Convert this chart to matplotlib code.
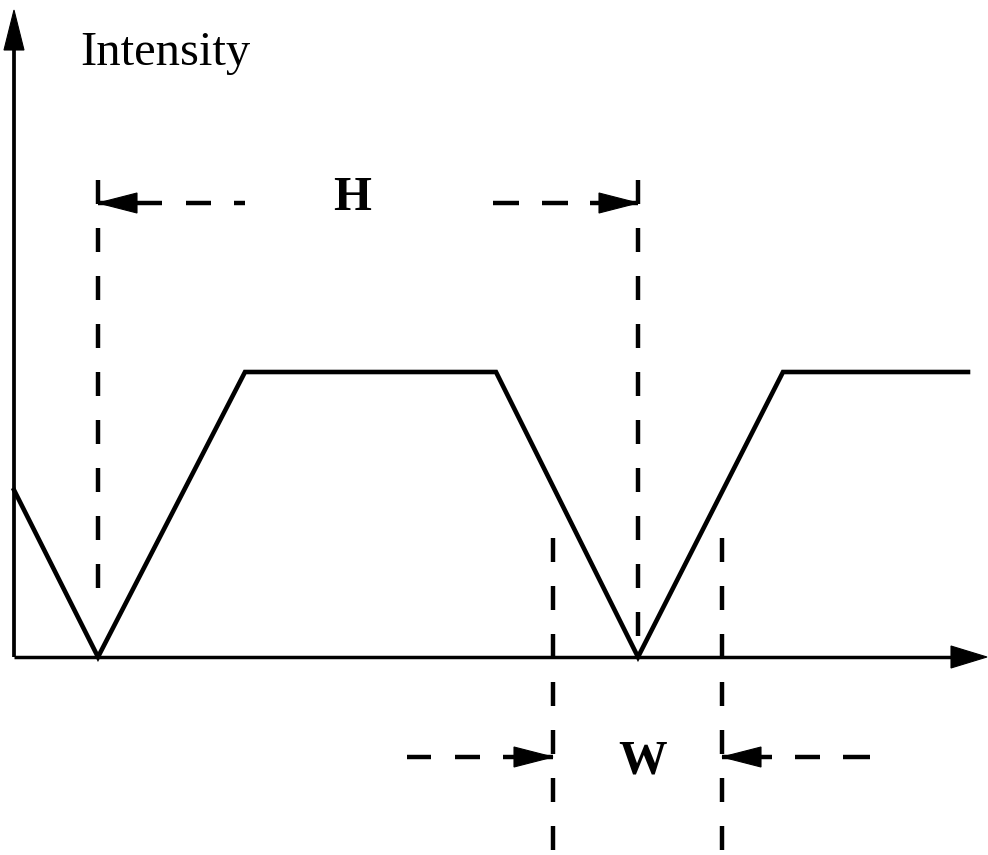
import matplotlib.pyplot as plt

plt.rcParams['lines.scale_dashes'] = False

# intensity profile (x measured from the origin, y = intensity)
profile_x = [0, 84, 231, 482, 624, 769, 954]
profile_y = [167, 0, 285, 285, 0, 285, 285]

# guide lines for the period H (at the two minima) and the width W
h_guides = [profile_x[1], profile_x[4]]
w_guides = [539, 708]
h_level = 454
w_level = -100

PX = 0.72  # pixel -> points at dpi 100

fig = plt.figure(figsize=(9.88, 8.55), dpi=100)
ax = fig.add_axes([0, 0, 1, 1])
ax.set_xlim(-14, 974)
ax.set_ylim(-198, 657)
ax.axis('off')


def head(tx, ty, dx, dy, length=39, hw=10):
    # filled arrow head, tip at (tx, ty), pointing along (dx, dy)
    bx, by = tx - dx * length, ty - dy * length
    px, py = -dy * hw, dx * hw
    ax.fill([tx, bx + px, bx - px], [ty, by + py, by - py], color='black', lw=0.8)


def dashed(x0, y0, x1, y1, pattern):
    ax.plot([x0, x1], [y0, y1], color='black', lw=3.2,
            dashes=[p * PX for p in pattern])


# axes
ax.plot([0, 0], [0, 615], color='black', lw=2.7, solid_capstyle='butt')
head(0, 647, 0, 1, length=40, hw=10)
ax.plot([0, 945], [0, 0], color='black', lw=2.5, solid_capstyle='butt')
head(973, 0, 1, 0, length=36, hw=11)

# profile
ax.plot(profile_x, profile_y, color='black', lw=3.3, solid_joinstyle='miter')

# vertical guides
dashed(h_guides[0], 477, h_guides[0], 69, (24, 24))
dashed(h_guides[1], 477, h_guides[1], 21, (24, 24))
dashed(w_guides[0], 119, w_guides[0], -198, (24, 24))
dashed(w_guides[1], 119, w_guides[1], -198, (24, 24))

# H arrows
dashed(h_guides[0], h_level, 231, h_level, (64, 24, 25, 23))
head(h_guides[0], h_level, -1, 0)
dashed(h_guides[1], h_level, 479, h_level, (48, 22, 26, 23))
head(h_guides[1], h_level, 1, 0)

# W arrows
dashed(w_guides[0], w_level, 393, w_level, (50, 23, 25, 24))
head(w_guides[0], w_level, 1, 0)
dashed(w_guides[1], w_level, 856, w_level, (50, 23, 25, 23))
head(w_guides[1], w_level, -1, 0)

# labels
ax.text(66, 592, 'Intensity', family='Liberation Serif', fontsize=35,
        ha='left', va='baseline')
ax.text(338, 447, 'H', family='Liberation Serif', fontweight='bold',
        fontsize=35, ha='center', va='baseline')
ax.text(629, -116, 'W', family='Liberation Serif', fontweight='bold',
        fontsize=35, ha='center', va='baseline')

fig.savefig('out.png', dpi=100)
